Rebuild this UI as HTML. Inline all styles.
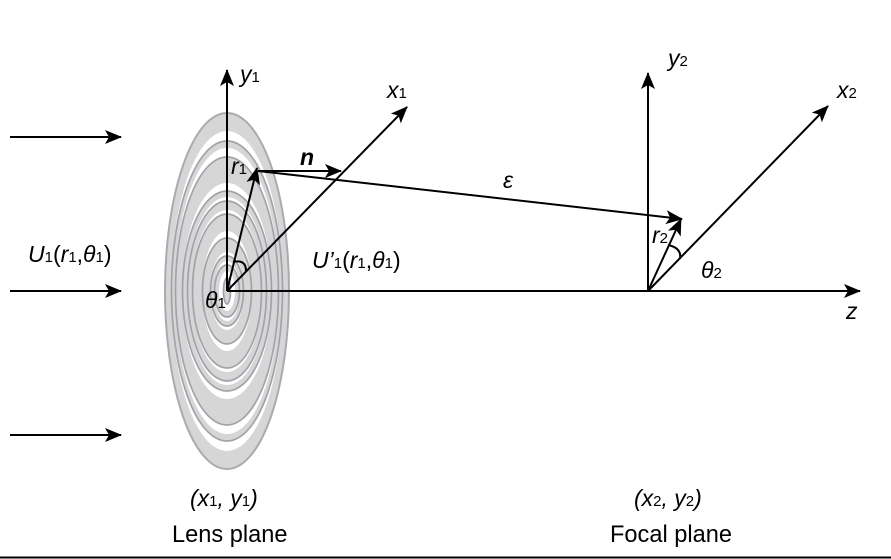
<!DOCTYPE html>
<html><head><meta charset="utf-8"><style>
html,body{margin:0;padding:0;background:#fff;width:891px;height:559px;overflow:hidden}
svg{display:block}
text{font-family:"Liberation Sans",sans-serif;font-size:23px;fill:#000}
.i{font-style:italic}
.s{font-size:15px;font-style:normal}
.b{font-size:23.6px}
.l{stroke:#000;stroke-width:2;fill:none}
.g{fill:#d6d6d6;stroke:#a0a3a9;stroke-width:1.7}
.w{fill:#fff;stroke:none}
</style></head><body>
<svg width="891" height="559" viewBox="0 0 891 559" xmlns="http://www.w3.org/2000/svg">
<defs>
<marker id="a" markerUnits="userSpaceOnUse" markerWidth="20" markerHeight="16" refX="16" refY="7" orient="auto"><path d="M0 0L17 7L0 14L4 7Z" fill="#000"/></marker>
</defs>
<g>
<ellipse cx="227" cy="291" rx="62" ry="178" fill="#d6d6d6" stroke="#a8abb0" stroke-width="2"/>
<ellipse class="w" cx="227" cy="291" rx="56" ry="160"/>
<ellipse class="g" cx="227" cy="291" rx="55.5" ry="150"/>
<ellipse class="w" cx="227" cy="291" rx="52" ry="143"/>
<ellipse class="g" cx="227" cy="291" rx="51.5" ry="134"/>
<ellipse class="w" cx="227" cy="291" rx="45" ry="108"/>
<ellipse class="g" cx="227" cy="291" rx="44.5" ry="100"/>
<ellipse class="w" cx="227" cy="291" rx="40" ry="94"/>
<ellipse class="g" cx="227" cy="291" rx="39.5" ry="90"/>
<ellipse class="w" cx="227" cy="291" rx="35" ry="81"/>
<ellipse class="g" cx="227" cy="291" rx="34.5" ry="77"/>
<ellipse class="w" cx="227" cy="291" rx="25" ry="60"/>
<ellipse class="g" cx="227" cy="291" rx="24.5" ry="53"/>
<ellipse class="w" cx="227" cy="291" rx="17" ry="39"/>
<ellipse class="g" cx="227" cy="291" rx="16.5" ry="35"/>
<ellipse class="w" cx="227" cy="291" rx="13" ry="30"/>
<ellipse class="g" cx="227" cy="291" rx="12.5" ry="26"/>
<ellipse class="w" cx="227" cy="291" rx="8" ry="20"/>
<ellipse class="g" cx="227" cy="291" rx="3.5" ry="13"/>
</g>
<line class="l" x1="10" y1="137" x2="121" y2="137" marker-end="url(#a)"/>
<line class="l" x1="10" y1="291" x2="121" y2="291" marker-end="url(#a)"/>
<line class="l" x1="10" y1="435" x2="121" y2="435" marker-end="url(#a)"/>
<line class="l" x1="227" y1="291" x2="227" y2="70" marker-end="url(#a)"/>
<line class="l" x1="227" y1="291" x2="407" y2="107" marker-end="url(#a)"/>
<line class="l" x1="227" y1="291" x2="257" y2="168" marker-end="url(#a)"/>
<line class="l" x1="258" y1="171" x2="341" y2="171" marker-end="url(#a)"/>
<line class="l" x1="258" y1="171" x2="682" y2="219" marker-end="url(#a)"/>
<line class="l" x1="227" y1="291" x2="860" y2="291" marker-end="url(#a)"/>
<line class="l" x1="648" y1="291" x2="648" y2="73" marker-end="url(#a)"/>
<line class="l" x1="648" y1="291" x2="828" y2="106" marker-end="url(#a)"/>
<line class="l" x1="648" y1="291" x2="681" y2="219" marker-end="url(#a)"/>
<path class="l" d="M233 262Q246 259 246 271"/>
<path class="l" d="M668 245Q682 248 680 259"/>
<line x1="0" y1="557.5" x2="891" y2="557.5" stroke="#000" stroke-width="2"/>
<text class="i" x="240" y="82">y<tspan class="s">1</tspan></text>
<text class="i" x="387" y="98">x<tspan class="s">1</tspan></text>
<text class="i" x="231" y="174">r<tspan class="s">1</tspan></text>
<text class="i" x="300" y="165" style="font-weight:bold">n</text>
<text class="i" x="503" y="188">ε</text>
<text class="i" x="668" y="66">y<tspan class="s">2</tspan></text>
<text class="i" x="837" y="98">x<tspan class="s">2</tspan></text>
<text class="i" x="652" y="243">r<tspan class="s">2</tspan></text>
<text class="i" x="701" y="278">θ<tspan class="s">2</tspan></text>
<text class="i" x="205" y="308">θ<tspan class="s">1</tspan></text>
<text class="i" x="846" y="319">z</text>
<text class="i" x="28" y="262">U<tspan class="s">1</tspan><tspan style="font-style:normal">(</tspan>r<tspan class="s">1</tspan><tspan style="font-style:normal">,</tspan>θ<tspan class="s">1</tspan><tspan style="font-style:normal">)</tspan></text>
<text x="312" y="268"><tspan class="i">U’</tspan><tspan class="s">1</tspan>(<tspan class="i">r</tspan><tspan class="s">1</tspan>,<tspan class="i">θ</tspan><tspan class="s">1</tspan>)</text>
<text class="i" x="190" y="506">(x<tspan class="s">1</tspan>, y<tspan class="s">1</tspan>)</text>
<text class="i" x="634" y="506">(x<tspan class="s">2</tspan>, y<tspan class="s">2</tspan>)</text>
<text class="b" x="172" y="542">Lens plane</text>
<text class="b" x="610" y="542">Focal plane</text>
</svg>
</body></html>
